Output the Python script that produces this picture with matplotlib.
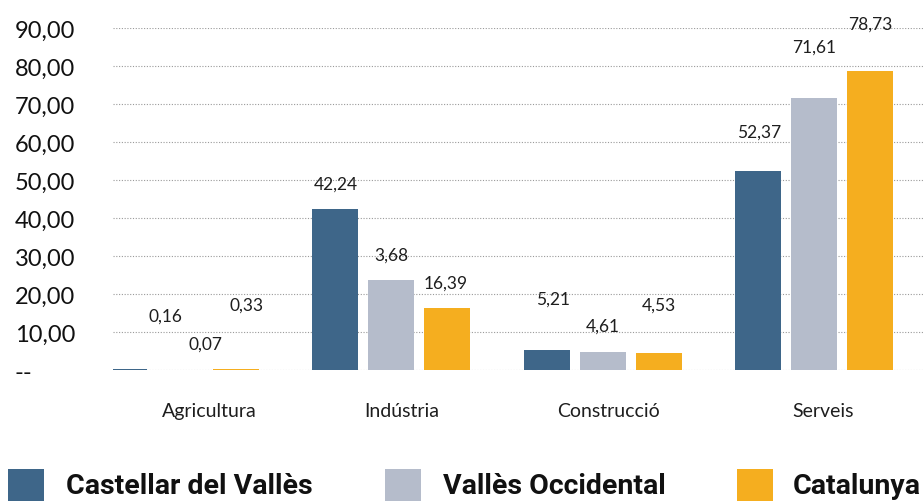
import matplotlib
matplotlib.use("Agg")
import matplotlib.pyplot as plt
from matplotlib.patches import Rectangle
from matplotlib.transforms import ScaledTranslation
import numpy as np

# ---- data ----
categories = ["Agricultura", "Indústria", "Construcció", "Serveis"]
series_names = ["Castellar del Vallès", "Vallès Occidental", "Catalunya"]
castellar = [0.16, 42.24, 5.21, 52.37]
valles_occ = [0.07, 23.68, 4.61, 71.61]
catalunya = [0.33, 16.39, 4.53, 78.73]
label_castellar = ["0,16", "42,24", "5,21", "52,37"]
label_valles = ["0,07", "3,68", "4,61", "71,61"]
label_catalunya = ["0,33", "16,39", "4,53", "78,73"]
y_ticks = [0, 10, 20, 30, 40, 50, 60, 70, 80, 90]
y_tick_labels = ["--", "10,00", "20,00", "30,00", "40,00", "50,00",
                 "60,00", "70,00", "80,00", "90,00"]

# ---- styling ----
colors = ["#3e6689", "#b5bccb", "#f5ae1f"]
# manual label offsets (pixels) as in the original chart: (dx, dy)
label_offsets = [
    [(42, 54), (26, 26), (11, 64)],
    [(1, 26), (0, 25), (-1, 25)],
    [(7, 52), (0, 27), (0, 48)],
    [(1, 39), (0, 51), (0, 47)],
]
cat_label_dx = [30, 11, 6, 9]

W, H, DPI = 923, 502, 100
fig = plt.figure(figsize=(W / DPI, H / DPI), dpi=DPI)
ax_left, ax_right = 113 / W, 1.0
ax_bottom, ax_top = 1 - 371 / H, 1 - 29 / H
ax = fig.add_axes([ax_left, ax_bottom, ax_right - ax_left, ax_top - ax_bottom])

group_px = 211.5
step = 56 / group_px
width = 46 / group_px
x = np.arange(len(categories))
series = [castellar, valles_occ, catalunya]
labels = [label_castellar, label_valles, label_catalunya]

for i, (vals, col) in enumerate(zip(series, colors)):
    xs = x + (i - 1) * step
    ax.bar(xs, vals, width=width, color=col, linewidth=0, zorder=3)
    for j, (xx, v) in enumerate(zip(xs, vals)):
        dx, dy = label_offsets[j][i]
        ax.annotate(labels[i][j], (xx, v), xytext=(dx, dy),
                    textcoords="offset pixels", ha="center", va="center",
                    fontsize=12.5, color="#1e1e1e", family="Lato", zorder=4)

left0 = (179.5 - 113) / group_px
ax.set_xlim(-left0, -left0 + (W - 113) / group_px)
ax.set_ylim(0, 90)

ax.set_yticks(y_ticks)
ax.set_yticklabels(y_tick_labels, fontsize=17, family="Lato", color="#111111")
ax.tick_params(axis="y", length=0, pad=98 * 72 / DPI)
for t in ax.get_yticklabels():
    t.set_horizontalalignment("left")

ax.set_xticks(x)
ax.set_xticklabels(categories, fontsize=14, family="Lato", color="#1e1e1e")
ax.tick_params(axis="x", length=0, pad=23)
for t, dx in zip(ax.get_xticklabels(), cat_label_dx):
    t.set_transform(t.get_transform() + ScaledTranslation(dx / DPI, 0, fig.dpi_scale_trans))

ax.yaxis.grid(True, linestyle=(0, (1, 1.5)), color="#9a9a9a", linewidth=0.8, zorder=0)
for s in ax.spines.values():
    s.set_visible(False)

# ---- legend ----
leg_sq_x = [8, 385, 737]
leg_txt_x = [66, 443, 793]
for name, col, sx, tx in zip(series_names, colors, leg_sq_x, leg_txt_x):
    fig.patches.append(Rectangle((sx / W, 0), 36 / W, 32 / H, transform=fig.transFigure,
                                 facecolor=col, edgecolor="none"))
    fig.text(tx / W, 1 - 487 / H, name, ha="left", va="center", fontsize=20.5,
             fontweight="bold", family=["Liberation Sans Narrow", "Roboto"],
             color="#111111")

fig.savefig("out.png", dpi=DPI)
